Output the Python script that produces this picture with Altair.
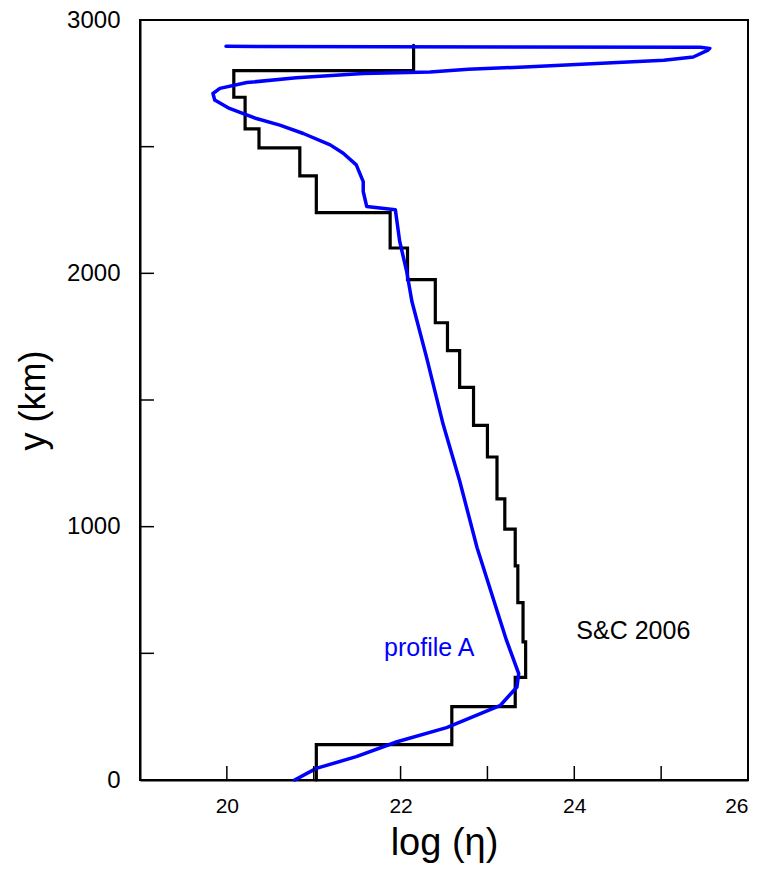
import altair as alt
import pandas as pd

# S&C 2006 step profile: log(eta) per layer and layer boundaries (km)
step_eta = [21.03, 22.59, 23.32, 23.44, 23.41, 23.35, 23.32, 23.20, 23.11, 23.00,
            22.84, 22.68, 22.54, 22.40, 22.08, 21.88, 21.03, 20.84, 20.37, 20.21,
            20.08, 22.15]
step_bounds = [0, 140, 290, 405, 545, 700, 845, 990, 1110, 1275, 1400, 1550,
               1695, 1805, 1975, 2100, 2240, 2385, 2495, 2570, 2695, 2800, 2900]

# profile A (traced in path order)
prof_eta = [20.78, 21.03, 21.49, 21.96, 22.53, 23.15, 23.34, 23.36, 23.22, 23.11,
            22.88, 22.68, 22.49, 22.30, 22.13, 22.07, 21.99, 21.94, 21.61, 21.57,
            21.57, 21.49, 21.34, 21.19, 20.88, 20.61, 20.34, 20.03, 19.86, 19.84,
            19.92, 20.23, 20.80, 21.57, 22.34, 22.78, 23.49, 24.26, 25.03, 25.37,
            25.54, 25.56, 25.45, 19.99]
prof_y = [0, 46, 92, 151, 207, 295, 367, 420, 551, 669,
          918, 1181, 1404, 1667, 1890, 2008, 2126, 2251, 2264, 2323,
          2362, 2428, 2474, 2507, 2552, 2585, 2611, 2651, 2684, 2710,
          2730, 2753, 2772, 2789, 2795, 2806, 2815, 2828, 2841, 2854,
          2881, 2888, 2892, 2896]

x_ticks = [19, 20, 21, 22, 23, 24, 25, 26]
y_ticks = [0, 500, 1000, 1500, 2000, 2500, 3000]
x_labels = [20, 22, 24, 26]
y_labels = [0, 1000, 2000, 3000]

labels_text = ["profile A", "S&C 2006"]
labels_x = [22.33, 24.68]
labels_y = [522, 587]
labels_color = ["#0000FF", "#000000"]

FONT = "Liberation Sans"

rows = []
k = 0
for i, e in enumerate(step_eta):
    rows.append({"eta": e, "y": step_bounds[i], "o": k}); k += 1
    rows.append({"eta": e, "y": step_bounds[i + 1], "o": k}); k += 1
step_df = pd.DataFrame(rows)
prof_df = pd.DataFrame({"eta": prof_eta, "y": prof_y, "o": list(range(len(prof_y)))})
lab_df = pd.DataFrame({"t": labels_text, "eta": labels_x, "y": labels_y, "c": labels_color})
xt_df = pd.DataFrame({"eta": x_ticks})
yt_df = pd.DataFrame({"y": y_ticks})

xs = alt.Scale(domain=[19, 26], nice=False)
ys = alt.Scale(domain=[0, 3000], nice=False)
xax = alt.Axis(title="log (η)", values=x_labels, format="d")
yax = alt.Axis(title="y (km)", values=y_labels, format="d")
X = alt.X("eta:Q", scale=xs, axis=xax)
Y = alt.Y("y:Q", scale=ys, axis=yax)

H = 760

step = alt.Chart(step_df).mark_line(color="black", strokeWidth=3.2, strokeCap="round",
                                    strokeJoin="miter").encode(x=X, y=Y, order="o:Q")
prof = alt.Chart(prof_df).mark_line(color="#0000FF", strokeWidth=3.5, strokeCap="round",
                                    strokeJoin="round").encode(x=X, y=Y, order="o:Q")

xt = alt.Chart(xt_df).mark_rule(color="black", strokeWidth=1.5).encode(
    x=X, y=alt.value(H), y2=alt.value(H - 14))
yt = alt.Chart(yt_df).mark_rule(color="black", strokeWidth=1.5).encode(
    y=Y, x=alt.value(0), x2=alt.value(14))

txt = alt.Chart(lab_df).mark_text(font=FONT, fontSize=25, align="center",
                                  baseline="middle").encode(
    x=X, y=Y, text="t:N", color=alt.Color("c:N", scale=None))

chart = alt.layer(step, prof, xt, yt, txt).properties(
    width=608, height=H, background="white",
    autosize=alt.AutoSizeParams(type="none"),
    padding={"left": 132, "top": 12, "right": 10, "bottom": 90},
).configure_view(stroke="black", strokeWidth=2).configure_axis(
    labelFont=FONT, titleFont=FONT, labelColor="black", titleColor="black",
    titleFontWeight="normal", domainColor="black", domainWidth=2, grid=False,
    ticks=False
).configure_axisX(labelFontSize=21, titleFontSize=38, titlePadding=8, labelPadding=15
).configure_axisY(labelFontSize=24, titleFontSize=36, titlePadding=14, labelPadding=20)

chart.save("out.html", embed_options={"renderer": "svg", "actions": False})
